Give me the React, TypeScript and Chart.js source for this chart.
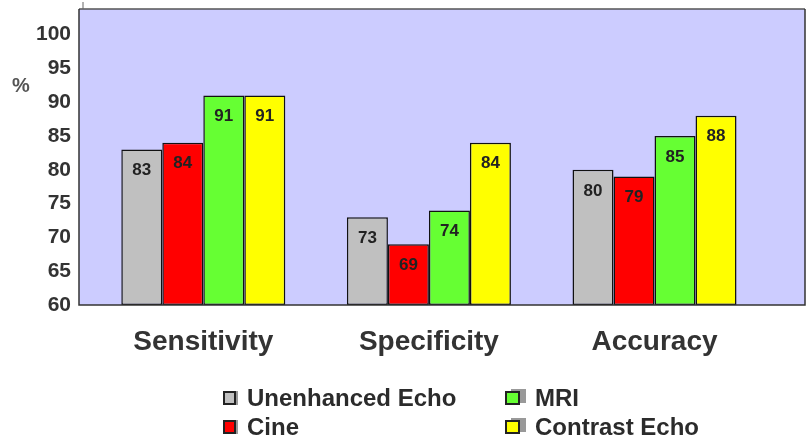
import { useEffect, useRef } from "react";
import { Chart, registerables } from "chart.js";

Chart.register(...registerables);

// ---- data ----
const categories = ["Sensitivity", "Specificity", "Accuracy"];
const seriesNames = ["Unenhanced Echo", "Cine", "MRI", "Contrast Echo"];
const unenhancedEcho = [83, 73, 80];
const cine = [84, 69, 79];
const mri = [91, 74, 85];
const contrastEcho = [91, 84, 88];
const seriesValues = [unenhancedEcho, cine, mri, contrastEcho];
const seriesColors = ["#C0C0C0", "#FF0000", "#66FF33", "#FFFF00"];
const yTicks = [60, 65, 70, 75, 80, 85, 90, 95, 100];
const yMin = 60;
const yMax = 103.8;
const xMin = -0.551;
const xMax = 2.667;

const FONT = '"Liberation Sans", Arial, Helvetica, sans-serif';

const plotDecor = {
  id: "plotDecor",
  beforeDraw(chart: any) {
    const { ctx, chartArea: a } = chart;
    ctx.save();
    ctx.fillStyle = "#CCCCFF";
    ctx.fillRect(a.left, a.top, a.right - a.left, a.bottom - a.top);
    ctx.restore();
  },
  afterDatasetsDraw(chart: any) {
    const { ctx, chartArea: a } = chart;
    ctx.save();
    // plot frame
    ctx.lineWidth = 1.5;
    ctx.strokeStyle = "#555";
    ctx.beginPath();
    ctx.moveTo(a.left, a.top);
    ctx.lineTo(a.right, a.top);
    ctx.stroke();
    ctx.strokeStyle = "#333";
    ctx.beginPath();
    ctx.moveTo(a.right, a.top);
    ctx.lineTo(a.right, a.bottom);
    ctx.lineTo(a.left, a.bottom);
    ctx.lineTo(a.left, a.top);
    ctx.stroke();
    // small tick above frame
    ctx.lineWidth = 1;
    ctx.strokeStyle = "#666";
    ctx.beginPath();
    ctx.moveTo(a.left + 4, a.top - 7);
    ctx.lineTo(a.left + 4, a.top);
    ctx.stroke();
    // value labels
    ctx.font = `bold 17px ${FONT}`;
    ctx.fillStyle = "#222";
    ctx.textAlign = "center";
    ctx.textBaseline = "middle";
    chart.data.datasets.forEach((ds: any, di: number) => {
      const meta = chart.getDatasetMeta(di);
      meta.data.forEach((el: any, i: number) => {
        ctx.fillText(String(ds.data[i].y), el.x, el.y + 21);
      });
    });
    // axis unit
    ctx.font = `bold 20px ${FONT}`;
    ctx.fillStyle = "#555";
    ctx.fillText("%", a.left - 58, a.top + 77);
    ctx.restore();
  },
};

export default function App() {
  const ref = useRef<HTMLCanvasElement | null>(null);

  useEffect(() => {
    if (!ref.current) return;
    const chart = new Chart(ref.current, {
      type: "bar",
      data: {
        datasets: seriesNames.map((name, si) => ({
          label: name,
          data: seriesValues[si].map((y, i) => ({ x: i, y })),
          backgroundColor: seriesColors[si],
          borderColor: "#111",
          borderWidth: 1.5,
          borderSkipped: false,
          base: yMin,
          categoryPercentage: 0.727,
          barPercentage: 1,
        })),
      },
      options: {
        animation: false,
        responsive: false,
        layout: { padding: { top: 9, right: 2, left: 0, bottom: 0 } },
        plugins: {
          legend: { display: false },
          tooltip: { enabled: false },
        },
        scales: {
          x: {
            type: "linear",
            offset: false,
            min: xMin,
            max: xMax,
            grid: { display: false, offset: false },
            border: { display: false },
            afterBuildTicks: (axis: any) => {
              axis.ticks = categories.map((_, i) => ({ value: i }));
            },
            afterFit: (axis: any) => {
              axis.height = 138;
              axis.paddingLeft = 0;
              axis.paddingRight = 0;
            },
            ticks: {
              autoSkip: false,
              maxRotation: 0,
              padding: 12,
              color: "#333",
              font: { family: FONT, size: 28, weight: "bold" },
              callback: (v: any) => categories[Math.round(Number(v))] ?? "",
            },
          },
          y: {
            type: "linear",
            min: yMin,
            max: yMax,
            grid: { display: false, drawTicks: false },
            border: { display: false },
            afterBuildTicks: (axis: any) => {
              axis.ticks = yTicks.map((v) => ({ value: v }));
            },
            afterFit: (axis: any) => {
              axis.width = 79;
              axis.paddingTop = 0;
              axis.paddingBottom = 0;
            },
            ticks: {
              padding: 8,
              color: "#333",
              font: { family: FONT, size: 21, weight: "bold" },
            },
          },
        },
      },
      plugins: [plotDecor],
    });
    return () => chart.destroy();
  }, []);

  // legend: column-major 2x2 grid
  const legendCols = [
    { boxLeft: 223, textLeft: 247, boxW: 13, shadow: "2px 0 0 #999" },
    { boxLeft: 505, textLeft: 535, boxW: 15, shadow: "6px -2px 0 #999" },
  ];
  const legendRowsCenter = [397.5, 426.5];

  return (
    <div style={{ position: "absolute", left: 0, top: 0, width: 807, height: 443, background: "#fff" }}>
      <canvas ref={ref} width={807} height={443} style={{ width: 807, height: 443, display: "block" }} />
      {seriesNames.map((name, si) => {
        const col = legendCols[Math.floor(si / 2)];
        const cy = legendRowsCenter[si % 2];
        return (
          <div key={name}>
            <div
              style={{
                position: "absolute",
                left: col.boxLeft,
                top: cy - 7,
                width: col.boxW,
                height: 14,
                boxSizing: "border-box",
                border: "2px solid #222",
                background: seriesColors[si],
                boxShadow: col.shadow,
              }}
            />
            <div
              style={{
                position: "absolute",
                left: col.textLeft,
                top: cy - 15,
                height: 30,
                lineHeight: "30px",
                fontFamily: FONT,
                fontWeight: "bold",
                fontSize: 24,
                color: "#2b2b2b",
                whiteSpace: "nowrap",
              }}
            >
              {name}
            </div>
          </div>
        );
      })}
    </div>
  );
}
